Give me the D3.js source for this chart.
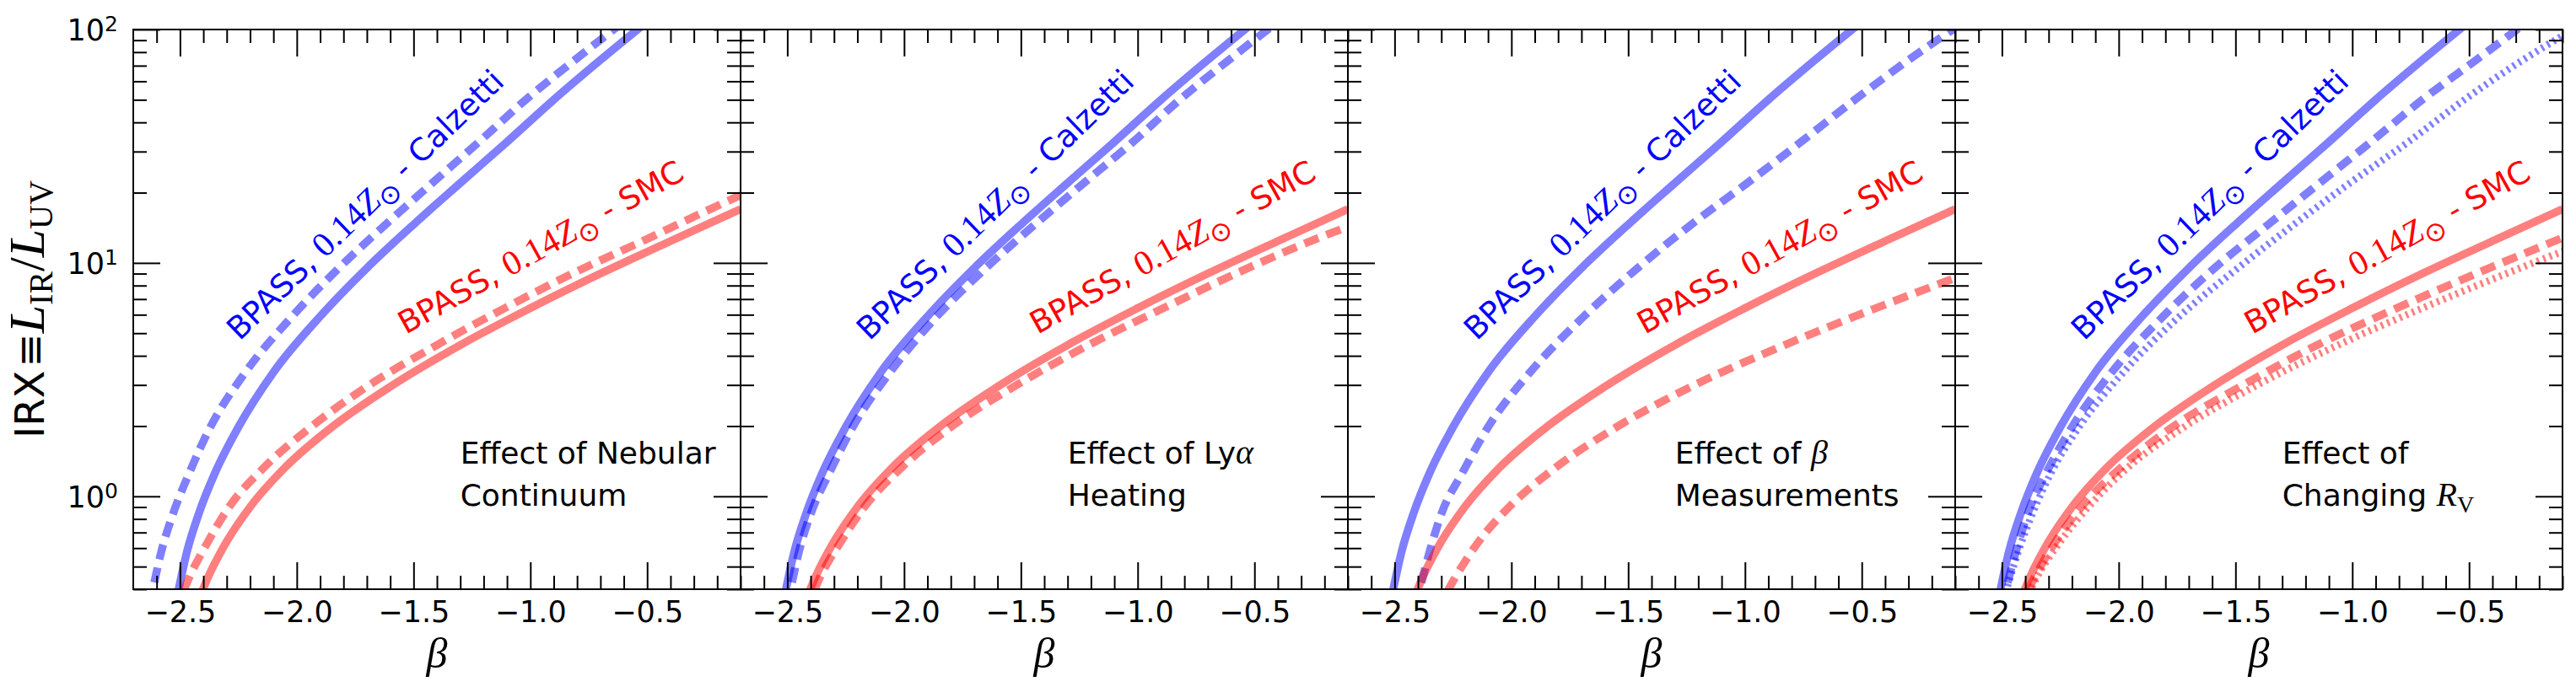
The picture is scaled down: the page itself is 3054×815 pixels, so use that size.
<!DOCTYPE html>
<html lang="en">
<head>
<meta charset="UTF-8">
<title>IRX - beta : BPASS 0.14 Zsun</title>
<script src="https://d3js.org/d3.v7.min.js"></script>
<style>
  body { margin: 0; background: #fff; }
  svg text { font-family: "DejaVu Sans", sans-serif; }
  .math { font-family: "Liberation Serif", serif; }
  .tick line { stroke: #000; stroke-width: 2; }
</style>
</head>
<body>
<div id="chart"></div>
<script>
// ---- data ----
// baseline curves (solid), identical in every panel
const calzBeta = [-2.52, -2.47, -2.42, -2.35, -2.25, -2.1, -1.9, -1.7, -1.5, -1.3, -1.1, -0.9, -0.7, -0.5];
const calzIRX  = [0.34, 0.58, 0.84, 1.26, 1.98, 3.4, 5.9, 9.5, 14.6, 22, 33, 50, 74, 108];
const smcBeta  = [-2.44, -2.38, -2.3, -2.2, -2.05, -1.85, -1.6, -1.3, -1.0, -0.7, -0.4, -0.1];
const smcIRX   = [0.32, 0.45, 0.64, 0.90, 1.33, 1.98, 2.95, 4.45, 6.4, 9.0, 12.4, 17.0];

// panel 1: nebular continuum (dashed)
const nebCalzBeta = [-2.63, -2.58, -2.53, -2.46, -2.37, -2.22, -2.02, -1.82, -1.62, -1.42, -1.22, -1.02, -0.81, -0.6];
const nebCalzIRX  = [0.34, 0.58, 0.84, 1.26, 1.98, 3.4, 5.9, 9.5, 14.6, 22, 33, 50, 74, 108];
const nebSmcBeta  = [-2.52, -2.46, -2.38, -2.29, -2.14, -1.94, -1.70, -1.40, -1.11, -0.82, -0.52, -0.23, -0.1];
const nebSmcIRX   = [0.32, 0.45, 0.64, 0.90, 1.33, 1.98, 2.95, 4.45, 6.4, 9.0, 12.4, 17.0, 19.5];

// panel 2: Ly-alpha heating (dashed)
const lyaCalzBeta = [-2.50, -2.45, -2.40, -2.32, -2.22, -2.06, -1.86, -1.65, -1.44, -1.23, -1.02, -0.82, -0.61, -0.40];
const lyaCalzIRX  = [0.34, 0.58, 0.84, 1.26, 1.98, 3.4, 5.9, 9.5, 14.6, 22, 33, 50, 74, 108];
const lyaSmcBeta  = [-2.42, -2.36, -2.27, -2.17, -2.01, -1.80, -1.53, -1.21, -0.89, -0.58, -0.26, -0.1];
const lyaSmcIRX   = [0.32, 0.45, 0.64, 0.90, 1.33, 1.98, 2.95, 4.45, 6.4, 9.0, 12.4, 14.3];

// panel 3: beta measurements (dashed)
const measCalzBeta = [-2.41, -2.35, -2.30, -2.21, -2.10, -1.92, -1.69, -1.46, -1.23, -0.99, -0.76, -0.53, -0.30, -0.06];
const measCalzIRX  = [0.34, 0.58, 0.84, 1.26, 1.98, 3.4, 5.9, 9.5, 14.6, 22, 33, 50, 74, 108];
const measSmcBeta  = [-2.32, -2.24, -2.14, -2.01, -1.81, -1.55, -1.23, -0.83, -0.44, -0.05];
const measSmcIRX   = [0.32, 0.45, 0.64, 0.90, 1.33, 1.98, 2.95, 4.45, 6.4, 9.0];

// panel 4: changing R_V (dashed and dotted)
const rvCalzBeta  = [-2.50, -2.44, -2.39, -2.31, -2.20, -2.03, -1.81, -1.59, -1.36, -1.14, -0.92, -0.70, -0.47, -0.25];
const rvCalzIRX   = [0.34, 0.58, 0.84, 1.26, 1.98, 3.4, 5.9, 9.5, 14.6, 22, 33, 50, 74, 108];
const rv2CalzBeta = [-2.50, -2.43, -2.37, -2.29, -2.17, -1.98, -1.74, -1.49, -1.25, -1.01, -0.76, -0.52, -0.27, -0.1];
const rv2CalzIRX  = [0.34, 0.58, 0.84, 1.26, 1.98, 3.4, 5.9, 9.5, 14.6, 22, 33, 50, 74, 94];
const rvSmcBeta   = [-2.43, -2.36, -2.27, -2.16, -1.99, -1.77, -1.48, -1.15, -0.81, -0.47, -0.1];
const rvSmcIRX    = [0.32, 0.45, 0.64, 0.90, 1.33, 1.98, 2.95, 4.45, 6.4, 9.0, 12.8];
const rv2SmcBeta  = [-2.42, -2.35, -2.25, -2.13, -1.96, -1.72, -1.42, -1.06, -0.70, -0.34, -0.1];
const rv2SmcIRX   = [0.32, 0.45, 0.64, 0.90, 1.33, 1.98, 2.95, 4.45, 6.4, 9.0, 11.2];

// ticks
const xMajor = [-2.5, -2.0, -1.5, -1.0, -0.5];
const yMajor = [1, 10, 100];
const yMinor = [0.4, 0.5, 0.6, 0.7, 0.8, 0.9, 2, 3, 4, 5, 6, 7, 8, 9, 20, 30, 40, 50, 60, 70, 80, 90];

// text
const panelNotes = [
  ["Effect of Nebular", "Continuum"],
  ["Effect of Ly", "Heating"],
  ["Effect of ", "Measurements"],
  ["Effect of", "Changing "]
];
// where the curve labels start (beta, IRX)
const calzLabelBeta = [-2.245, -2.148, -2.148, -2.148];
const smcLabelBeta  = [-1.534, -1.429, -1.429, -1.429];
const calzLabelIRX = 4.61, smcLabelIRX = 4.93;
const noteBeta = -1.3, noteIRX = 1.38;

// ---- layout ----
const margin = {top: 35, left: 158},
      panelW = 720,
      panelH = 664;

const svg = d3.select("#chart").append("svg")
  .attr("width", 3054)
  .attr("height", 815)
  .style("background", "#fff");

const x = d3.scaleLinear().domain([-2.7, -0.1]).range([0, panelW]);
const y = d3.scaleLog().domain([0.4, 100]).range([panelH, 0]);

const xMinor = d3.range(-26, 0).map(d => d / 10).filter(d => !xMajor.some(m => Math.abs(m - d) < 1e-6));

svg.append("defs").append("clipPath").attr("id", "plotclip")
  .append("rect").attr("width", panelW).attr("height", panelH);

const zip = (a, b) => a.map((d, i) => [d, b[i]]);

const BLUE = "blue", RED = "red";
const panels = [
  {series: [
    {d: zip(calzBeta, calzIRX), c: BLUE, s: "solid"},
    {d: zip(nebCalzBeta, nebCalzIRX), c: BLUE, s: "dash"},
    {d: zip(smcBeta, smcIRX), c: RED, s: "solid"},
    {d: zip(nebSmcBeta, nebSmcIRX), c: RED, s: "dash"}]},
  {series: [
    {d: zip(calzBeta, calzIRX), c: BLUE, s: "solid"},
    {d: zip(lyaCalzBeta, lyaCalzIRX), c: BLUE, s: "dash"},
    {d: zip(smcBeta, smcIRX), c: RED, s: "solid"},
    {d: zip(lyaSmcBeta, lyaSmcIRX), c: RED, s: "dash"}]},
  {series: [
    {d: zip(calzBeta, calzIRX), c: BLUE, s: "solid"},
    {d: zip(measCalzBeta, measCalzIRX), c: BLUE, s: "dash"},
    {d: zip(smcBeta, smcIRX), c: RED, s: "solid"},
    {d: zip(measSmcBeta, measSmcIRX), c: RED, s: "dash"}]},
  {series: [
    {d: zip(calzBeta, calzIRX), c: BLUE, s: "solid"},
    {d: zip(rvCalzBeta, rvCalzIRX), c: BLUE, s: "dash"},
    {d: zip(rv2CalzBeta, rv2CalzIRX), c: BLUE, s: "dot"},
    {d: zip(smcBeta, smcIRX), c: RED, s: "solid"},
    {d: zip(rvSmcBeta, rvSmcIRX), c: RED, s: "dash"},
    {d: zip(rv2SmcBeta, rv2SmcIRX), c: RED, s: "dot"}]}
];

const line = d3.line()
  .x(d => x(d[0]))
  .y(d => y(d[1]))
  .curve(d3.curveMonotoneX);

const dashes = {solid: null, dash: "18,10", dot: "3,5"};
const widths = {solid: 9.5, dash: 9.5, dot: 8.5};

panels.forEach((p, i) => {
  const g = svg.append("g")
    .attr("transform", `translate(${margin.left + i * panelW},${margin.top})`);

  // curves
  const curves = g.append("g").attr("clip-path", "url(#plotclip)");
  p.series.forEach(s => {
    curves.append("path")
      .attr("d", line(s.d))
      .attr("fill", "none")
      .attr("stroke", s.c)
      .attr("stroke-opacity", 0.5)
      .attr("stroke-width", widths[s.s])
      .attr("stroke-dasharray", dashes[s.s]);
  });

  // ticks, all pointing inwards
  const tickAxis = (axis, tr, vals, len, labels) => {
    const a = g.append("g").attr("transform", tr)
      .call(axis.tickValues(vals).tickSizeInner(-len).tickSizeOuter(0)
        .tickPadding(labels ? 14 : 0)
        .tickFormat(labels ? d3.format(".1f") : ""));
    a.select(".domain").remove();
    return a;
  };
  const xa = tickAxis(d3.axisBottom(x), `translate(0,${panelH})`, xMajor, 32, true);
  xa.selectAll("text").style("font-size", "35px").attr("fill", "#000");
  tickAxis(d3.axisBottom(x), `translate(0,${panelH})`, xMinor, 16, false);
  tickAxis(d3.axisTop(x), "translate(0,0)", xMajor, 32, false);
  tickAxis(d3.axisTop(x), "translate(0,0)", xMinor, 16, false);
  tickAxis(d3.axisLeft(y), "translate(0,0)", yMajor, 32, false);
  tickAxis(d3.axisLeft(y), "translate(0,0)", yMinor, 16, false);
  tickAxis(d3.axisRight(y), `translate(${panelW},0)`, yMajor, 32, false);
  tickAxis(d3.axisRight(y), `translate(${panelW},0)`, yMinor, 16, false);

  if (i === 0) {
    // y labels 10^n
    const ya = g.append("g")
      .call(d3.axisLeft(y).tickValues(yMajor).tickSize(0).tickFormat(""));
    ya.select(".domain").remove();
    ya.selectAll(".tick text").remove();
    ya.selectAll(".tick").append("text")
      .attr("x", -18).attr("dy", "0.36em")
      .attr("text-anchor", "end")
      .attr("fill", "#000")
      .style("font-size", "35px")
      .each(function(d) {
        const t = d3.select(this);
        t.append("tspan").text("10");
        t.append("tspan").attr("dy", "-0.45em").style("font-size", "25px")
          .text(Math.round(Math.log10(d)));
      });
  }

  // frame
  g.append("rect")
    .attr("width", panelW).attr("height", panelH)
    .attr("fill", "none").attr("stroke", "#000").attr("stroke-width", 2);

  // x label
  g.append("text")
    .attr("class", "math")
    .attr("x", panelW / 2).attr("y", 792 - margin.top)
    .attr("text-anchor", "middle")
    .style("font-size", "50px").style("font-style", "italic")
    .text("β");

  // curve labels
  const lab = (bx, iy, ang, col, tail) => {
    const t = g.append("text")
      .attr("transform", `translate(${x(bx)},${y(iy)}) rotate(${ang})`)
      .attr("fill", col)
      .style("font-size", "37px");
    t.append("tspan").text("BPASS, ");
    t.append("tspan").attr("class", "math").style("font-size", "41px").text("0.14");
    t.append("tspan").attr("class", "math").style("font-size", "41px").style("font-style", "italic").text("Z");
    t.append("tspan").attr("dy", "0.3em").style("font-size", "32px").text("⊙");
    t.append("tspan").attr("dy", "-0.28em").text(" - " + tail);
  };
  lab(calzLabelBeta[i], calzLabelIRX, -44, BLUE, "Calzetti");
  lab(smcLabelBeta[i], smcLabelIRX, -29, RED, "SMC");

  // panel note
  const note = g.append("text")
    .attr("x", x(noteBeta)).attr("y", y(noteIRX))
    .attr("fill", "#000")
    .style("font-size", "36px");
  note.append("tspan").text(panelNotes[i][0]);
  if (i === 1) note.append("tspan").attr("class", "math").style("font-style", "italic").style("font-size", "40px").text("α");
  if (i === 2) note.append("tspan").attr("class", "math").style("font-style", "italic").style("font-size", "40px").text("β");
  note.append("tspan").attr("x", x(noteBeta)).attr("dy", 50).text(panelNotes[i][1]);
  if (i === 3) {
    note.append("tspan").attr("class", "math").style("font-style", "italic").style("font-size", "40px").text("R");
    note.append("tspan").attr("class", "math").attr("dy", 8).style("font-size", "28px").text("V");
  }
});

// y axis title
const yt = svg.append("text")
  .attr("transform", `translate(52,${margin.top + panelH / 2}) rotate(-90)`)
  .attr("text-anchor", "middle")
  .attr("fill", "#000")
  .style("font-size", "48px");
yt.append("tspan").text("IRX");
yt.append("tspan").attr("dx", 4).text("≡");
yt.append("tspan").attr("class", "math").style("font-style", "italic").style("font-size", "60px").text("L");
yt.append("tspan").attr("class", "math").attr("dy", 10).style("font-size", "40px").text("IR");
yt.append("tspan").attr("class", "math").attr("dy", -10).style("font-size", "60px").text("/");
yt.append("tspan").attr("class", "math").style("font-style", "italic").style("font-size", "60px").text("L");
yt.append("tspan").attr("class", "math").attr("dy", 10).style("font-size", "40px").text("UV");
</script>
</body>
</html>
